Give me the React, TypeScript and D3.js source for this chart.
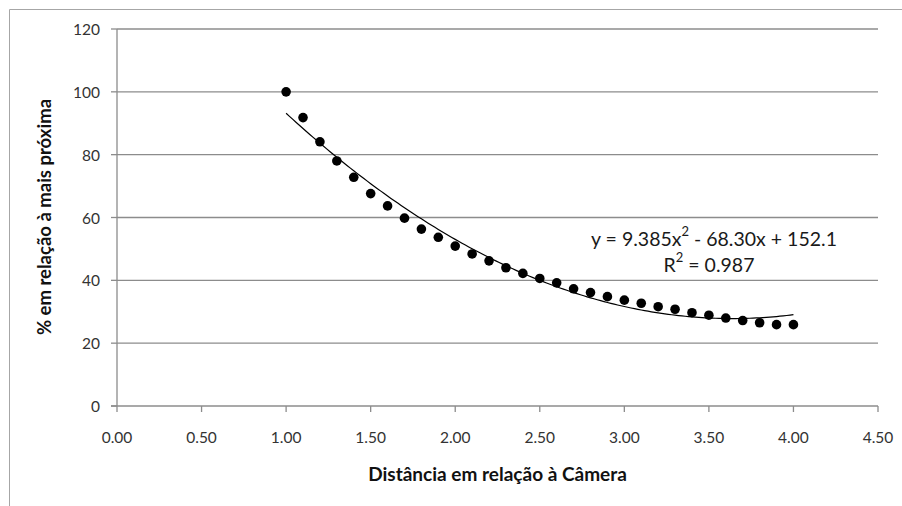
import React from "react";
import * as d3 from "d3";

const distances = [1.0, 1.1, 1.2, 1.3, 1.4, 1.5, 1.6, 1.7, 1.8, 1.9, 2.0, 2.1, 2.2, 2.3, 2.4, 2.5, 2.6, 2.7, 2.8, 2.9, 3.0, 3.1, 3.2, 3.3, 3.4, 3.5, 3.6, 3.7, 3.8, 3.9, 4.0];
const percents = [100, 91.8, 84.1, 78.0, 72.8, 67.6, 63.7, 59.8, 56.3, 53.7, 50.9, 48.4, 46.2, 44.0, 42.2, 40.6, 39.2, 37.3, 36.1, 34.8, 33.7, 32.7, 31.6, 30.8, 29.7, 28.9, 28.0, 27.2, 26.5, 25.9, 25.9];
const trendCoefs = [9.385, -68.30, 152.1];
const xTicks = [0, 0.5, 1, 1.5, 2, 2.5, 3, 3.5, 4, 4.5];
const yTicks = [0, 20, 40, 60, 80, 100, 120];
const xTitle = "Distância em relação à Câmera";
const yTitle = "% em relação à mais próxima";

const W = 902;
const H = 506;
const FONT = "Lato, 'Open Sans', sans-serif";

export default function App() {
  const x = d3.scaleLinear().domain([0, 4.5]).range([117, 878]);
  const y = d3.scaleLinear().domain([0, 120]).range([406, 29]);
  const grid = "#8c8c8c";
  const textCol = "#333";

  const trendX = d3.range(1, 4.0001, 0.02);
  const trend = d3
    .line<number>()
    .x((d) => x(d))
    .y((d) => y(trendCoefs[0] * d * d + trendCoefs[1] * d + trendCoefs[2]));

  return (
    <svg width={W} height={H} style={{ position: "absolute", left: 0, top: 0, display: "block", background: "#fff" }}>
      <rect x={0} y={0} width={W} height={H} fill="#fff" />
      {/* outer frame */}
      <line x1={9.5} y1={9.5} x2={W} y2={9.5} stroke="#a6a6a6" strokeWidth={1} />
      <line x1={9.5} y1={9.5} x2={9.5} y2={H} stroke="#a6a6a6" strokeWidth={1} />

      {/* gridlines */}
      {yTicks.filter((t) => t > 0).map((t) => (
        <line key={"g" + t} x1={x(0)} x2={x(4.5)} y1={y(t)} y2={y(t)} stroke={grid} strokeWidth={1.3} />
      ))}
      {/* y axis */}
      <line x1={x(0)} x2={x(0)} y1={y(120)} y2={y(0)} stroke={grid} strokeWidth={1.3} />
      {yTicks.map((t) => (
        <g key={"y" + t}>
          <line x1={x(0) - 6} x2={x(0)} y1={y(t)} y2={y(t)} stroke={grid} strokeWidth={1.3} />
          <text x={100} y={y(t)} textAnchor="end" dominantBaseline="central" fontFamily={FONT} fontSize={15.5} fill={textCol}>
            {t}
          </text>
        </g>
      ))}
      {/* x axis */}
      <line x1={x(0) - 6} x2={x(4.5)} y1={y(0)} y2={y(0)} stroke={grid} strokeWidth={1.3} />
      {xTicks.map((t) => (
        <g key={"x" + t}>
          <line x1={x(t)} x2={x(t)} y1={y(0)} y2={y(0) + 6} stroke={grid} strokeWidth={1.3} />
          <text x={x(t)} y={437} textAnchor="middle" dominantBaseline="central" fontFamily={FONT} fontSize={15.5} fill={textCol}>
            {t.toFixed(2)}
          </text>
        </g>
      ))}

      {/* points */}
      {distances.map((d, i) => (
        <circle key={"p" + i} cx={x(d)} cy={y(percents[i])} r={4.8} fill="#000" />
      ))}
      {/* trendline */}
      <path d={trend(trendX) || ""} fill="none" stroke="#000" strokeWidth={1.2} />

      {/* equation */}
      <text x={714} y={238} textAnchor="middle" dominantBaseline="central" fontFamily={FONT} fontSize={19.5} fill="#1a1a1a">
        y = {trendCoefs[0].toFixed(3)}x
        <tspan dy={-7} fontSize={13}>2</tspan>
        <tspan dy={7}> - {Math.abs(trendCoefs[1]).toFixed(2)}x + {trendCoefs[2].toFixed(1)}</tspan>
      </text>
      <text x={709} y={264} textAnchor="middle" dominantBaseline="central" fontFamily={FONT} fontSize={19.5} fill="#1a1a1a">
        R<tspan dy={-7} fontSize={13}>2</tspan>
        <tspan dy={7}> = 0.987</tspan>
      </text>

      {/* axis titles */}
      <text x={497.5} y={473} textAnchor="middle" dominantBaseline="central" fontFamily={FONT} fontWeight="bold" fontSize={19} fill="#111">
        {xTitle}
      </text>
      <text
        transform={`translate(44, 217) rotate(-90)`}
        textAnchor="middle"
        dominantBaseline="central"
        fontFamily={FONT}
        fontWeight="bold"
        fontSize={18.5}
        fill="#111"
      >
        {yTitle}
      </text>
    </svg>
  );
}
